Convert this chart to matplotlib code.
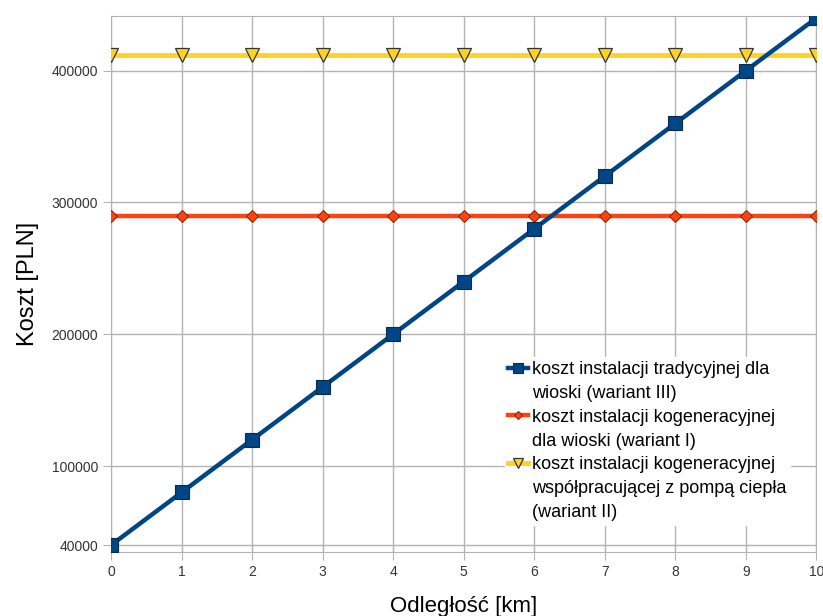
import matplotlib.pyplot as plt
from matplotlib.lines import Line2D
import numpy as np

# odleglosc [km]
odleglosc = [0, 1, 2, 3, 4, 5, 6, 7, 8, 9, 10]

# koszty [PLN]
tradycyjna = [40000, 80000, 120000, 160000, 200000, 240000, 280000, 320000, 360000, 400000, 440000]
kogeneracja = [290000] * 11
kogeneracja_pompa = [412000] * 11

etykiety = ["koszt instalacji tradycyjnej dla\nwioski (wariant III)",
            "koszt instalacji kogeneracyjnej\ndla wioski (wariant I)",
            "koszt instalacji kogeneracyjnej\nwspółpracującej z pompą ciepła\n(wariant II)"]

y_ticks = [40000, 100000, 200000, 300000, 400000]

plt.rcParams['font.family'] = ['Liberation Sans', 'DejaVu Sans']

fig = plt.figure(figsize=(8.23, 6.16), dpi=100)
ax = fig.add_axes([0.135, 0.104, 0.857, 0.870])

l1, = ax.plot(odleglosc, tradycyjna, color='#004586', lw=3.2, marker='s', ms=9.5,
              mfc='#004586', mec='#0a2a4a', mew=0.8, zorder=4)
l2, = ax.plot(odleglosc, kogeneracja, color='#ff420e', lw=3.2, marker='D', ms=6,
              mfc='#ff420e', mec='#8a2a10', mew=0.8, zorder=3)
l3, = ax.plot(odleglosc, kogeneracja_pompa, color='#ffd320', lw=3.5, marker='v', ms=10,
              mfc='#ffd320', mec='#333333', mew=0.9, zorder=3)

ax.set_xlim(0, 10)
ax.set_ylim(34800, 441500)
ax.set_xticks(odleglosc)
ax.set_yticks(y_ticks)
ax.set_yticklabels([str(v) for v in y_ticks])
ax.grid(True, color='#b3b3b3', lw=1)
ax.set_axisbelow(True)
for s in ax.spines.values():
    s.set_color('#b3b3b3')
ax.tick_params(colors='#b3b3b3', labelcolor='#333333', labelsize=10, length=6)

ax.set_xlabel('Odległość [km]', fontsize=16, labelpad=12)
ax.set_ylabel('Koszt [PLN]', fontsize=17, labelpad=9)

# legenda: znacznik przy pierwszej linii opisu
uchwyty = []
opisy = []
for linia, tekst in zip([l1, l2, l3], etykiety):
    czesci = tekst.split("\n")
    uchwyty.append(linia)
    opisy.append(czesci[0])
    for c in czesci[1:]:
        uchwyty.append(Line2D([], [], linestyle='none'))
        opisy.append(c)

leg = ax.legend(uchwyty, opisy, loc='upper left', bbox_to_anchor=(0.545, 0.38),
                frameon=True, fontsize=13, handlelength=1.1, handletextpad=0.2,
                labelspacing=0.38, borderpad=0.2, markerscale=0.7)
leg.get_frame().set_edgecolor('white')
leg.get_frame().set_facecolor('white')
leg.get_frame().set_alpha(1)

fig.savefig('out.png', dpi=100)
